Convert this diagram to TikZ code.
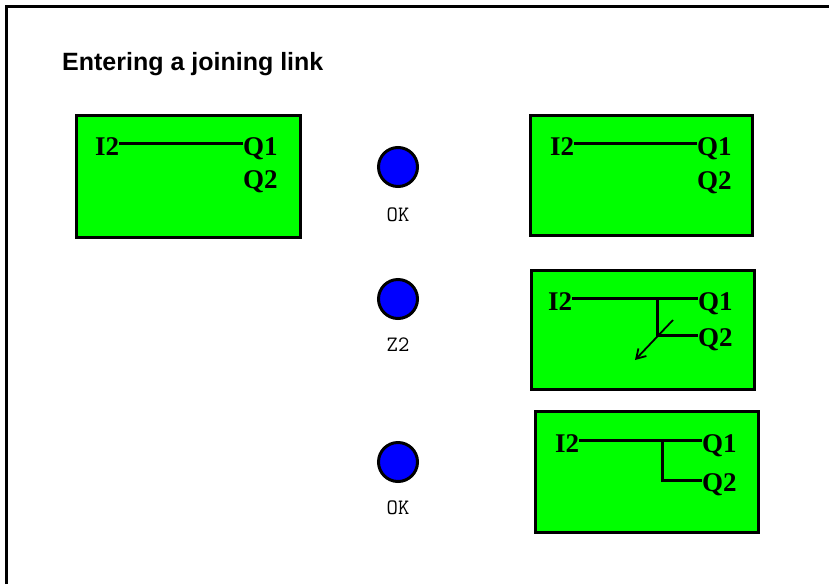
\documentclass[tikz,border=0pt]{standalone}
\usepackage{fontspec}
\setmainfont{Liberation Serif}
\newfontfamily\titlefont{Liberation Sans}
\usetikzlibrary{arrows.meta, positioning, calc}
\definecolor{lcdGreen}{RGB}{0,255,0}
\definecolor{ledBlue}{RGB}{0,0,255}

\begin{document}
\begin{tikzpicture}[x=1pt, y=-1pt,
    display/.style={rectangle, draw=black, line width=3pt, fill=lcdGreen, inner sep=0pt, minimum width=222pt, minimum height=120pt},
    led/.style={circle, draw=black, line width=3pt, fill=ledBlue, minimum size=39pt, inner sep=0pt},
    keylabel/.style={font=\ttfamily\fontsize{22}{22}\selectfont, inner sep=0pt},
    io/.style={font=\bfseries\fontsize{27}{27}\selectfont, inner sep=0pt, anchor=base west},
    wire/.style={line width=3pt, black},
    cursor/.style={line width=1.8pt, black, -{Straight Barb[length=9pt, width=11pt]}}
]
    % Frame and title
    \useasboundingbox (0,0) rectangle (829,584);
    \draw[line width=3pt] (6.5,584) -- (6.5,6.5) -- (829,6.5);
    \node[anchor=base west, inner sep=0pt, font=\titlefont\bfseries\fontsize{25}{25}\selectfont] (title) at (62,70) {Entering a joining link};

    % Start display (left)
    \node[display, minimum width=224pt, minimum height=122pt] (disp0) at (188,176) {};
    \node[io] (i2a) at (95,155) {I2};
    \node[io] (q1a) at (243,155) {Q1};
    \node[io] (q2a) at (243,188) {Q2};
    \draw[wire] ([yshift=12pt]i2a.base east) -- ([yshift=12pt]q1a.base west);

    % Keys (middle)
    \node[led] (led1) at (398,167) {};
    \node[keylabel, below=20pt of led1] (key1) {OK};
    \node[led] (led2) at (398,299) {};
    \node[keylabel, below=18pt of led2] (key2) {Z2};
    \node[led] (led3) at (398,462) {};
    \node[keylabel, below=18pt of led3] (key3) {OK};

    % Display after first OK
    \node[display] (disp1) at (641,175) {};
    \node[io] (i2b) at (550,155) {I2};
    \node[io] (q1b) at (697,155) {Q1};
    \node[io] (q2b) at (697,189) {Q2};
    \draw[wire] ([yshift=12pt]i2b.base east) -- ([yshift=12pt]q1b.base west);

    % Display after Z2 (cursor on the branch)
    \node[display, minimum width=223pt, minimum height=119pt] (disp2) at (642.5,329.5) {};
    \node[io] (i2c) at (548,310) {I2};
    \node[io] (q1c) at (698,310) {Q1};
    \node[io] (q2c) at (698,346) {Q2};
    \draw[wire] ([yshift=12pt]i2c.base east) -- ([yshift=12pt]q1c.base west);
    \coordinate (tapc) at (657,298);
    \coordinate (joinc) at (657,335);
    \draw[wire] (tapc) -- (joinc) -- ([yshift=11pt]q2c.base west);
    \coordinate (curc) at (673,320);
    \coordinate (tipc) at (635,360);
    \draw[cursor] (curc) -- (tipc);

    % Display after second OK
    \node[display, minimum width=223pt, minimum height=121pt] (disp3) at (646.5,471.5) {};
    \node[io] (i2d) at (555,452) {I2};
    \node[io] (q1d) at (702,452) {Q1};
    \node[io] (q2d) at (702,491) {Q2};
    \draw[wire] ([yshift=12pt]i2d.base east) -- ([yshift=12pt]q1d.base west);
    \coordinate (tapd) at (662,440);
    \coordinate (joind) at (662,480);
    \draw[wire] (tapd) -- (joind) -- ([yshift=11pt]q2d.base west);
\end{tikzpicture}
\end{document}
